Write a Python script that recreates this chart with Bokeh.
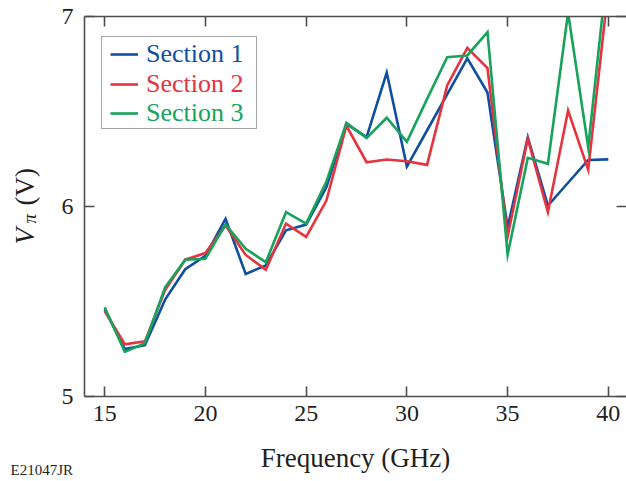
from math import pi

from bokeh.embed import file_html
from bokeh.layouts import column, row
from bokeh.models import (FixedTicker, Label, Legend, LegendItem, LinearAxis,
                          Range1d)
from bokeh.plotting import figure
from bokeh.resources import INLINE

# Half-wave voltage of each modulator section versus drive frequency
freq_ghz = list(range(15, 41))
section1 = [5.46, 5.25, 5.27, 5.51, 5.67, 5.74, 5.935, 5.645, 5.69, 5.875,
            5.905, 6.10, 6.435, 6.365, 6.705, 6.21, 6.40, 6.59, 6.78, 6.60,
            5.89, 6.365, 6.005, 6.125, 6.245, 6.248]
section2 = [5.45, 5.275, 5.29, 5.56, 5.72, 5.755, 5.90, 5.745, 5.667, 5.91,
            5.84, 6.03, 6.425, 6.233, 6.247, 6.238, 6.219, 6.637, 6.835, 6.728,
            5.842, 6.356, 5.97, 6.505, 6.193, 7.15]
section3 = [5.47, 5.235, 5.28, 5.575, 5.72, 5.725, 5.905, 5.777, 5.707, 5.97,
            5.91, 6.13, 6.44, 6.36, 6.467, 6.34, 6.565, 6.786, 6.795, 6.918,
            5.747, 6.256, 6.225, 7.02, 6.312, 7.30]

series_names = ["Section 1", "Section 2", "Section 3"]
series_values = [section1, section2, section3]
series_colors = ["#0f4fa0", "#e5343f", "#17a35b"]

x_ticks = [15, 20, 25, 30, 35, 40]
y_ticks = [5, 6, 7]

FONT = "Liberation Serif"
INK = "#231f20"
FRAME = "#4d4d4d"

TOTAL_W, TOTAL_H = 626, 481
STRIP_W = 46      # column holding the rotated y-axis title
FOOTER_H = 46     # row holding the x-axis title and figure code
MAIN_W, MAIN_H = TOTAL_W - STRIP_W, TOTAL_H - FOOTER_H


def blank_panel(width, height):
    """A figure with no axes whose frame fills the canvas, used for titles."""
    f = figure(width=width, height=height, output_backend="svg",
               toolbar_location=None, x_axis_location=None,
               y_axis_location=None, min_border=0,
               x_range=Range1d(0, 1), y_range=Range1d(0, 1))
    f.outline_line_color = None
    f.grid.visible = False
    f.background_fill_color = "white"
    f.border_fill_color = "white"
    return f


# ---- main chart -------------------------------------------------------------
p = figure(width=MAIN_W, height=MAIN_H, output_backend="svg",
           toolbar_location=None,
           x_range=Range1d(14, 40.9), y_range=Range1d(5, 7),
           min_border_left=38, min_border_right=0,
           min_border_top=16, min_border_bottom=39)
p.outline_line_color = None
p.grid.grid_line_color = None
p.background_fill_color = "white"
p.border_fill_color = "white"

bottom_axis = p.below[0]
left_axis = p.left[0]
top_axis = LinearAxis()
right_axis = LinearAxis()
p.add_layout(top_axis, "above")
p.add_layout(right_axis, "right")


def style_axis(ax, ticks, show_labels):
    ax.ticker = FixedTicker(ticks=ticks)
    ax.major_tick_in = 10
    ax.major_tick_out = 0
    ax.minor_tick_line_color = None
    ax.axis_line_color = FRAME
    ax.axis_line_width = 1.6
    ax.major_tick_line_color = FRAME
    ax.major_tick_line_width = 1.6
    ax.major_label_text_font = FONT
    ax.major_label_text_color = INK
    if show_labels:
        ax.major_label_text_font_size = "24px"
    else:
        ax.major_label_text_alpha = 0
        ax.major_label_text_font_size = "1px"
        ax.major_label_standoff = 0


style_axis(bottom_axis, x_ticks, True)
style_axis(left_axis, y_ticks, True)
style_axis(top_axis, x_ticks, False)
style_axis(right_axis, y_ticks, False)
right_axis.axis_line_color = None
bottom_axis.major_label_standoff = 9
left_axis.major_label_standoff = 11

renderers = []
for name, vals, color in zip(series_names, series_values, series_colors):
    r = p.line(freq_ghz, vals, line_color=color, line_width=2.6,
               line_join="miter")
    renderers.append(r)

# Legend frame: an outlined box whose own glyphs and labels stay hidden
frame_legend = Legend(
    items=[LegendItem(label=n, renderers=[r]) for n, r in zip(series_names, renderers)],
    location=(17, 267), orientation="vertical", margin=0, padding=2, spacing=0,
    glyph_width=0, glyph_height=29, label_height=29, label_width=150,
    label_standoff=0, label_text_font_size="8px", label_text_alpha=0,
    border_line_color=FRAME, border_line_width=1.6,
    background_fill_color="white", background_fill_alpha=1.0)
p.add_layout(frame_legend)

# One borderless legend per series so each label takes its line colour
item_bottoms = [327, 297.5, 268]
for name, r, color, yb in zip(series_names, renderers, series_colors, item_bottoms):
    lg = Legend(items=[LegendItem(label=name, renderers=[r])],
                location=(26, yb), margin=0, padding=0, spacing=0,
                glyph_width=28, glyph_height=28, label_height=28,
                label_standoff=8, label_text_font=FONT,
                label_text_font_size="26px", label_text_color=color,
                border_line_alpha=0, background_fill_alpha=0)
    p.add_layout(lg)

# ---- y-axis title: italic V with subscript pi, then the unit ------------------
strip = blank_panel(STRIP_W, MAIN_H)
title_style = dict(x_units="screen", y_units="screen", angle=pi / 2,
                   text_font=FONT, text_color=INK,
                   text_baseline="alphabetic", text_align="left")
strip.add_layout(Label(x=24, y=152, text="V", text_font_size="27px",
                       text_font_style="italic", **title_style))
strip.add_layout(Label(x=29, y=173, text="π", text_font_size="19px",
                       text_font_style="italic", **title_style))
strip.add_layout(Label(x=24, y=191, text="(V)", text_font_size="27px",
                       **title_style))

# ---- footer: x-axis title and figure code -------------------------------------
footer = blank_panel(TOTAL_W, FOOTER_H)
footer.add_layout(Label(x=355, y=24, x_units="screen", y_units="screen",
                        text="Frequency (GHz)", text_font=FONT,
                        text_font_size="27px", text_color=INK,
                        text_align="center", text_baseline="alphabetic"))
footer.add_layout(Label(x=10, y=12, x_units="screen", y_units="screen",
                        text="E21047JR", text_font=FONT,
                        text_font_size="15px", text_color=INK,
                        text_baseline="alphabetic"))

page = column(row(strip, p, spacing=0), footer, spacing=0)
open("out.html", "w").write(file_html(page, INLINE))
